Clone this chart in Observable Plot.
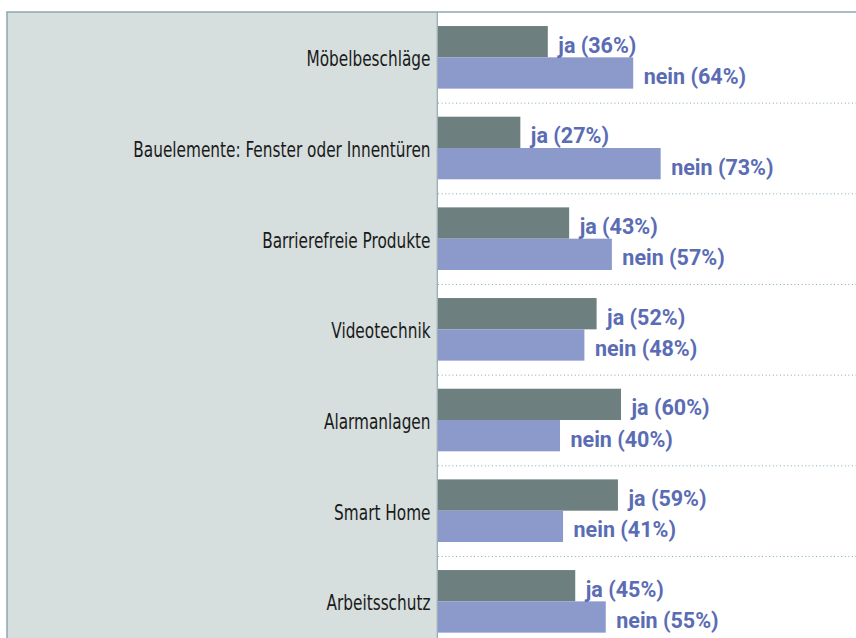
<!DOCTYPE html>
<html>
<head>
<meta charset="utf-8">
<script src="https://cdn.jsdelivr.net/npm/d3@7"></script>
<script src="https://cdn.jsdelivr.net/npm/@observablehq/plot@0.6"></script>
<style>
  html, body { margin: 0; padding: 0; background: #fff; overflow: hidden; }
  #chart svg { display: block; overflow: hidden; }
</style>
</head>
<body>
<div id="chart"></div>
<script>
const categories = [
  "Möbelbeschläge",
  "Bauelemente: Fenster oder Innentüren",
  "Barrierefreie Produkte",
  "Videotechnik",
  "Alarmanlagen",
  "Smart Home",
  "Arbeitsschutz"
];
const jaValues   = [36, 27, 43, 52, 60, 59, 45];
const neinValues = [64, 73, 57, 48, 40, 41, 55];
const answerLabels = {ja: "ja", nein: "nein"};

const data = categories.flatMap((c, i) => [
  {category: c, answer: "ja", value: jaValues[i]},
  {category: c, answer: "nein", value: neinValues[i]}
]);
const jaData = data.filter(d => d.answer === "ja");
const neinData = data.filter(d => d.answer === "nein");

const W = 856, H = 638;
const panelLeft = 7, plotTop = 12, axisX = 438;
const step = 90.67;
const barH = 31.3;
const edge = (step - 2 * barH) / 2;

const labelFont = "'Liberation Sans Narrow', 'DejaVu Sans Condensed', 'Arial Narrow', sans-serif";
const valueFont = "Roboto, 'Noto Sans', sans-serif";

const panel = (index, scales, values, dims) => {
  const g = d3.create("svg:g");
  g.append("rect").attr("x", panelLeft).attr("y", plotTop)
    .attr("width", axisX - panelLeft).attr("height", dims.height - plotTop)
    .attr("fill", "#d6dfde");
  g.append("line").attr("x1", panelLeft).attr("x2", panelLeft)
    .attr("y1", plotTop).attr("y2", dims.height)
    .attr("stroke", "#8ea6b3").attr("stroke-width", 1.5);
  g.append("line").attr("x1", axisX - 0.7).attr("x2", axisX - 0.7)
    .attr("y1", plotTop).attr("y2", dims.height)
    .attr("stroke", "#95a8b0").attr("stroke-width", 1.2);
  g.append("line").attr("x1", panelLeft - 0.75).attr("x2", dims.width)
    .attr("y1", plotTop).attr("y2", plotTop)
    .attr("stroke", "#8ea6b3").attr("stroke-width", 1.6);
  return g.node();
};

const chart = Plot.plot({
  width: W,
  height: H,
  marginLeft: axisX,
  marginRight: 0,
  marginTop: plotTop,
  marginBottom: 0,
  style: {background: "#fff", fontFamily: labelFont},
  x: {domain: [0, 100], range: [axisX, axisX + 305], axis: null},
  y: {type: "band", domain: categories, range: [plotTop, plotTop + step * categories.length],
      padding: 0, round: false, label: null},
  marks: [
    panel,
    Plot.ruleY(categories.slice(0, -1), {
      y: d => d, dy: step / 2,
      stroke: "#7fa8bb", strokeWidth: 1, strokeDasharray: "1,2.6"
    }),
    Plot.barX(jaData, {x: "value", y: "category", fill: "#6e7f80",
      insetTop: edge, insetBottom: step - edge - barH}),
    Plot.barX(neinData, {x: "value", y: "category", fill: "#8b99cb",
      insetTop: edge + barH, insetBottom: edge}),
    Plot.text(jaData, {x: "value", y: "category", text: d => `${answerLabels.ja} (${d.value}%)`,
      dx: 10, dy: -barH / 2 + 3.5, textAnchor: "start", fill: "#5a6cb4",
      fontWeight: "bold", fontSize: 21.5, fontFamily: valueFont}),
    Plot.text(neinData, {x: "value", y: "category", text: d => `${answerLabels.nein} (${d.value}%)`,
      dx: 10, dy: barH / 2 + 3.5, textAnchor: "start", fill: "#5a6cb4",
      fontWeight: "bold", fontSize: 21.5, fontFamily: valueFont}),
    Plot.axisY({tickSize: 0, tickPadding: 8, label: null, fontSize: 20.5, dy: 2,
      fill: "#1a1a1a", fontFamily: labelFont})
  ]
});
document.getElementById("chart").appendChild(chart);

// Condense the category labels horizontally to match the narrow typeface of the original
chart.querySelectorAll("g[aria-label]").forEach(g => {
  if (!/y-axis tick label/.test(g.getAttribute("aria-label"))) return;
  g.querySelectorAll("text").forEach(t => {
    const len = t.getComputedTextLength();
    if (len > 0) {
      t.setAttribute("textLength", (len * 0.83).toFixed(1));
      t.setAttribute("lengthAdjust", "spacingAndGlyphs");
    }
  });
});
</script>
</body>
</html>
